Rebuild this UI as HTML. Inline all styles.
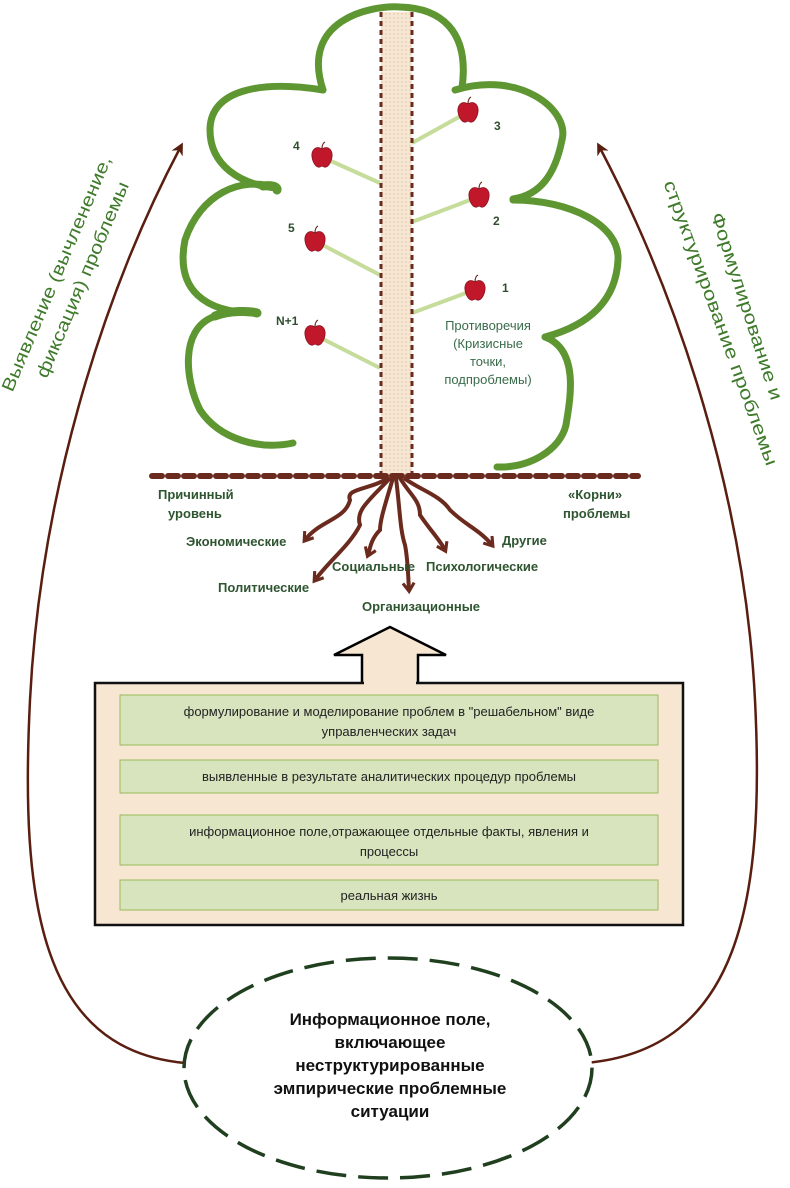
<!DOCTYPE html>
<html><head><meta charset="utf-8"><style>
body{margin:0;background:#fff}
svg{display:block}
text{font-family:"Liberation Sans",sans-serif}
</style></head><body>
<svg width="790" height="1188" viewBox="0 0 790 1188" xmlns="http://www.w3.org/2000/svg">
<defs>
<pattern id="dots" width="4" height="4" patternUnits="userSpaceOnUse"><rect width="4" height="4" fill="#f6e6d2"/><circle cx="2" cy="2" r="0.8" fill="#e0c7aa"/></pattern>
<marker id="ah" viewBox="0 0 10 10" refX="5" refY="5" markerWidth="5" markerHeight="5" orient="auto"><path d="M0,0 L10,5 L0,10 L3,5 z" fill="#5a1e10"/></marker>
<marker id="rh" viewBox="0 0 10 10" refX="6" refY="5" markerWidth="3.5" markerHeight="3.5" orient="auto"><path d="M1,1 L7,5 L1,9" fill="none" stroke="#6b2a1e" stroke-width="2.2"/></marker>
<g id="apple"><path d="M0,-9 C-6,-13 -11,-8 -10,-1 C-9,6 -5,10 -2,9 C-1,8 1,8 2,9 C5,10 9,6 10,-1 C11,-8 6,-13 0,-9z" fill="#c0182a" stroke="#8a1020" stroke-width="0.8"/><path d="M0,-9 C0,-13 1,-15 3,-16" stroke="#6b2a1e" stroke-width="1.2" fill="none"/></g>
</defs>

<g fill="none" stroke="#5e9632" stroke-width="7" stroke-linecap="round">
<path d="M323,90 C300,20 370,5 400,7 C440,8 470,30 462,88"/>
<path d="M455,90 C520,70 570,110 562,140 C555,175 540,195 513,199"/>
<path d="M513,200 C570,200 620,225 618,260 C616,300 590,325 545,337"/>
<path d="M545,337 C580,350 570,400 566,425 C560,450 530,468 497,467"/>
<path d="M323,90 C260,80 210,90 210,130 C210,165 240,185 277,188"/>
<path d="M277,188 C240,175 200,195 185,240 C175,290 205,313 257,313"/>
<path d="M213,317 C180,330 185,380 200,410 C220,440 260,450 293,443"/>
<path d="M263,186 C270,185 278,186 277,190" stroke-width="9"/>
<path d="M215,316 C230,310 250,311 257,313" stroke-width="9"/>
</g>

<g stroke="#c6dc9a" stroke-width="4">
<line x1="468" y1="112" x2="412" y2="143"/>
<line x1="478" y1="197" x2="412" y2="222"/>
<line x1="474" y1="290" x2="412" y2="313"/>
<line x1="322" y1="157" x2="380" y2="183"/>
<line x1="315" y1="241" x2="380" y2="275"/>
<line x1="315" y1="335" x2="380" y2="368"/>
</g>

<rect x="381" y="12" width="31" height="464" fill="url(#dots)"/>
<line x1="381" y1="12" x2="381" y2="476" stroke="#6b2a1e" stroke-width="3" stroke-dasharray="5,4"/>
<line x1="412" y1="12" x2="412" y2="476" stroke="#6b2a1e" stroke-width="3" stroke-dasharray="5,4"/>

<use href="#apple" x="468" y="113"/>
<use href="#apple" x="479" y="198"/>
<use href="#apple" x="475" y="291"/>
<use href="#apple" x="322" y="158"/>
<use href="#apple" x="315" y="242"/>
<use href="#apple" x="315" y="336"/>

<g font-size="12" fill="#2f4f2f" font-weight="bold">
<text x="494" y="130">3</text>
<text x="493" y="225">2</text>
<text x="502" y="292">1</text>
<text x="293" y="150">4</text>
<text x="288" y="232">5</text>
<text x="276" y="325">N+1</text>
</g>
<g font-size="13" fill="#3a6b4a" text-anchor="middle">
<text x="488" y="330">Противоречия</text>
<text x="488" y="348">(Кризисные</text>
<text x="488" y="366">точки,</text>
<text x="488" y="384">подпроблемы)</text>
</g>

<line x1="152" y1="476" x2="638" y2="476" stroke="#6b2a1e" stroke-width="6" stroke-dasharray="10,6" stroke-linecap="round"/>

<g fill="none" stroke="#6b2a1e" stroke-width="4" marker-end="url(#rh)">
<path d="M388,478 C370,490 345,488 350,500 C345,520 320,520 305,540"/>
<path d="M390,478 C370,500 355,510 360,525 C350,545 330,560 315,580"/>
<path d="M393,478 C385,505 380,520 380,530 C370,540 370,550 368,555"/>
<path d="M396,478 C400,510 400,530 405,545 C408,560 408,575 409,590"/>
<path d="M400,478 C410,495 420,500 420,515 C430,530 440,540 445,550"/>
<path d="M404,478 C420,490 440,495 450,510 C465,525 480,530 492,545"/>
</g>

<g font-size="13" fill="#2e5530" font-weight="bold">
<text x="158" y="499">Причинный</text>
<text x="168" y="518">уровень</text>
<text x="568" y="499">«Корни»</text>
<text x="563" y="518">проблемы</text>
<text x="186" y="546">Экономические</text>
<text x="218" y="592">Политические</text>
<text x="332" y="571">Социальные</text>
<text x="426" y="571">Психологические</text>
<text x="502" y="545">Другие</text>
<text x="362" y="611">Организационные</text>
</g>

<path d="M362,683 L362,655 L334,655 L390,627 L446,655 L418,655 L418,683" fill="#f6e6d2" stroke="#000" stroke-width="2.5"/>

<rect x="95" y="683" width="588" height="242" fill="#f6e6d2" stroke="#111" stroke-width="2.5"/>
<line x1="364" y1="683" x2="416" y2="683" stroke="#f6e6d2" stroke-width="3"/>
<g fill="#d7e4bd" stroke="#9bbb59" stroke-width="1">
<rect x="120" y="695" width="538" height="50"/>
<rect x="120" y="760" width="538" height="33"/>
<rect x="120" y="815" width="538" height="50"/>
<rect x="120" y="880" width="538" height="30"/>
</g>
<g font-size="13" fill="#222" text-anchor="middle">
<text x="389" y="716">формулирование и моделирование проблем в "решабельном" виде</text>
<text x="389" y="736">управленческих задач</text>
<text x="389" y="781">выявленные в результате аналитических процедур проблемы</text>
<text x="389" y="836">информационное поле,отражающее отдельные факты, явления и</text>
<text x="389" y="856">процессы</text>
<text x="389" y="900">реальная жизнь</text>
</g>

<path d="M185,1063 C40,1050 20,900 30,700 C40,500 100,300 180,148" fill="none" stroke="#5a1e10" stroke-width="2.5" marker-end="url(#ah)"/>
<path d="M585,1063 C740,1050 765,900 755,700 C745,500 680,300 600,148" fill="none" stroke="#5a1e10" stroke-width="2.5" marker-end="url(#ah)"/>

<ellipse cx="388" cy="1068" rx="204" ry="110" fill="#fff" stroke="#1f3f1f" stroke-width="3.5" stroke-dasharray="30,12"/>
<g font-size="17" font-weight="bold" fill="#111" text-anchor="middle">
<text x="390" y="1025">Информационное поле,</text>
<text x="390" y="1048">включающее</text>
<text x="390" y="1071">неструктурированные</text>
<text x="390" y="1094">эмпирические проблемные</text>
<text x="390" y="1117">ситуации</text>
</g>

<g font-size="18" fill="#3e7a2a" text-anchor="middle">
<text transform="translate(62,276) rotate(-67)" textLength="254" lengthAdjust="spacingAndGlyphs">Выявление (вычленение,</text>
<text transform="translate(88,282) rotate(-67)" textLength="211" lengthAdjust="spacingAndGlyphs">фиксация) проблемы</text>
<text transform="translate(741,308) rotate(72)" textLength="196" lengthAdjust="spacingAndGlyphs">Формулирование и</text>
<text transform="translate(715,325) rotate(70)" textLength="302" lengthAdjust="spacingAndGlyphs">структурирование проблемы</text>
</g>
</svg>
</body></html>
